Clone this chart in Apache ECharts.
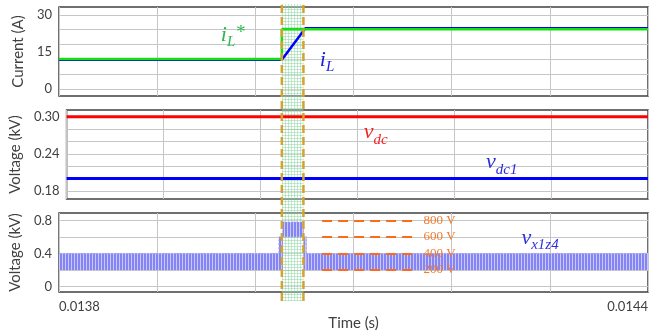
<!DOCTYPE html>
<html>
<head>
<meta charset="utf-8">
<script src="https://cdn.jsdelivr.net/npm/echarts@6/dist/echarts.min.js"></script>
<style>
  html, body { margin: 0; padding: 0; background: #fff; }
  #chart { width: 664px; height: 332px; }
</style>
</head>
<body>
<div id="chart"></div>
<script>
// time axis
const tMin = 0.0138, tMax = 0.0144, tStep = 0.0001;
const tLabels = [0.0138, 0.0144];

// y ticks (grid lines) and labelled values
const curTicks = [0, 6, 12, 18, 24, 30];
const curLabels = [0, 15, 30];
const dcTicks = [0.18, 0.20, 0.22, 0.24, 0.26, 0.28, 0.30];
const dcLabels = [0.18, 0.24, 0.30];
const vxTicks = [0, 0.2, 0.4, 0.6, 0.8];
const vxLabels = [0, 0.4, 0.8];

// transient window
const tOn = 0.014027, tOff = 0.014049;

// panel 1: inductor current and reference
const iRefT = [0.0138, 0.014027, 0.014027, 0.0144];
const iRefV = [12.1, 12.1, 24.2, 24.2];
const iLT = [0.0138, 0.014027, 0.014051, 0.0144];
const iLV = [11.8, 11.8, 24.6, 24.6];

// panel 2: dc voltages
const vdcT = [0.0138, 0.0144];
const vdcV = [0.30, 0.30];
const vdc1V = [0.20, 0.20];

// panel 3: switched voltage band (segment start, end, low, high)
const vxStart = [0.0138, 0.014024, 0.014028, 0.014049, 0.014052];
const vxEnd   = [0.014024, 0.014028, 0.014049, 0.014052, 0.0144];
const vxLow   = [0.2, 0.2, 0.6, 0.2, 0.2];
const vxHigh  = [0.4, 0.6, 0.78, 0.6, 0.4];

// reference levels
const refLevels = [0.8, 0.6, 0.4, 0.2];
const refNames = ['800 V', '600 V', '400 V', '200 V'];
const refT = [0.014068, 0.01416];

const zip = (a, b) => a.map((x, i) => [x, b[i]]);

function makePattern(w, h, draw) {
  const c = document.createElement('canvas');
  c.width = w; c.height = h;
  draw(c.getContext('2d'));
  return c;
}
const bandPat = makePattern(3, 1, ctx => {
  ctx.fillStyle = '#8484f4'; ctx.fillRect(0, 0, 3, 1);
  ctx.fillStyle = '#c8c8fb'; ctx.fillRect(2, 0, 1, 1);
});
const hatchPat = makePattern(3, 3, ctx => {
  ctx.fillStyle = 'rgba(255,255,255,0.25)'; ctx.fillRect(0, 0, 3, 3);
  ctx.fillStyle = 'rgba(110,205,140,0.4)';
  ctx.fillRect(0, 0, 3, 1); ctx.fillRect(0, 0, 1, 3);
});

const font = 'Lato';
const txt = '#404040';
const gridLine = { lineStyle: { color: '#c6c6c6', width: 1 } };
const serif = { fontFamily: 'Liberation Serif', fontStyle: 'italic' };

function richLabel(color, main, sub, sup) {
  return {
    show: true, position: 'inside',
    formatter: '{a|' + main + '}{b|' + sub + '}' + (sup ? '{c|' + sup + '}' : ''),
    rich: {
      a: Object.assign({ fontSize: 22, color: color, lineHeight: 24 }, serif),
      b: Object.assign({ fontSize: 15, color: color, verticalAlign: 'bottom', lineHeight: 30 }, serif),
      c: Object.assign({ fontSize: 19, color: color, verticalAlign: 'top', lineHeight: 30, padding: [4, 0, 0, 0] }, serif)
    }
  };
}
function note(coord, color, main, sub, sup) {
  return {
    silent: true, symbol: 'circle', symbolSize: 0,
    data: [{ coord: coord }],
    label: richLabel(color, main, sub, sup)
  };
}

const L = 59, R = 16;
const border = { show: true, borderColor: '#404040', borderWidth: 1.5 };

function xAxis(i) {
  const ax = {
    type: 'value', gridIndex: i, min: tMin, max: tMax, interval: tStep,
    axisLine: { show: false }, axisTick: { show: false },
    axisLabel: { show: false },
    splitLine: Object.assign({ show: i < 3 }, gridLine)
  };
  if (i === 2) {
    ax.axisLabel = {
      show: true, customValues: tLabels, formatter: v => v.toFixed(4),
      alignMinLabel: 'left', alignMaxLabel: 'right',
      fontFamily: font, fontSize: 13, color: txt, margin: 8
    };
    ax.name = 'Time (s)';
    ax.nameLocation = 'middle';
    ax.nameGap = 24;
    ax.nameTextStyle = { fontFamily: font, fontSize: 15, color: txt };
  }
  return ax;
}
function yAxis(i, min, max, ticks, labels, fmt, name) {
  return {
    type: 'value', gridIndex: i, min: min, max: max,
    axisLine: { show: false },
    axisTick: { show: false, customValues: ticks },
    axisLabel: { customValues: labels, formatter: fmt, fontFamily: font, fontSize: 13, color: txt, margin: 7 },
    splitLine: gridLine,
    name: name, nameLocation: 'middle', nameRotate: 90, nameGap: 27,
    nameTextStyle: { fontFamily: font, fontSize: 15, color: txt }
  };
}

const bandEdge = [];
vxStart.forEach((s, i) => { bandEdge.push([s, vxHigh[i]], [vxEnd[i], vxHigh[i]]); });

const chart = echarts.init(document.getElementById('chart'), null, { renderer: 'canvas' });
chart.setOption({
  animation: false,
  backgroundColor: '#fff',
  grid: [
    Object.assign({ left: L, right: R, top: 7, height: 89 }, border),
    Object.assign({ left: L, right: R, top: 110, height: 89 }, border),
    Object.assign({ left: L, right: R, top: 213, height: 86 }, border),
    { left: L, right: R, top: 4, height: 297, show: false }
  ],
  xAxis: [xAxis(0), xAxis(1), xAxis(2), xAxis(3)],
  yAxis: [
    yAxis(0, -2.84, 33.2, curTicks, curLabels, v => String(v), 'Current (A)'),
    yAxis(1, 0.167, 0.311, dcTicks, dcLabels, v => v.toFixed(2), 'Voltage (kV)'),
    yAxis(2, -0.067, 0.889, vxTicks, vxLabels, v => String(v), 'Voltage (kV)'),
    { type: 'value', gridIndex: 3, min: 0, max: 1, show: false }
  ],
  series: [
    {
      name: 'transient', type: 'line', xAxisIndex: 3, yAxisIndex: 3, z: 1,
      data: [[tOn, 0.5]], showSymbol: false, lineStyle: { width: 0 }, silent: true,
      markArea: {
        silent: true,
        itemStyle: { color: { image: hatchPat, repeat: 'repeat' } },
        data: [[{ xAxis: tOn }, { xAxis: tOff }]]
      }
    },
    {
      name: 'window', type: 'line', xAxisIndex: 3, yAxisIndex: 3, z: 4,
      data: [[tOn, 0], [tOn, 1]], showSymbol: false, silent: true,
      lineStyle: { color: '#d6a12c', type: [8, 4], width: 2.5 }
    },
    {
      name: 'window end', type: 'line', xAxisIndex: 3, yAxisIndex: 3, z: 4,
      data: [[tOff, 0], [tOff, 1]], showSymbol: false, silent: true,
      lineStyle: { color: '#d6a12c', type: [8, 4], width: 2.5 }
    },
    {
      name: 'iL', type: 'line', xAxisIndex: 0, yAxisIndex: 0,
      data: zip(iLT, iLV), showSymbol: false,
      lineStyle: { color: '#0000ff', width: 2.5 },
      markPoint: note([0.014073, 11.8], '#2222dd', 'i', 'L')
    },
    {
      name: 'iL*', type: 'line', xAxisIndex: 0, yAxisIndex: 0,
      data: zip(iRefT, iRefV), showSymbol: false,
      lineStyle: { color: '#14e014', width: 2.5 },
      markPoint: note([0.013977, 21.9], '#2db84d', 'i', 'L', '*')
    },
    {
      name: 'vdc', type: 'line', xAxisIndex: 1, yAxisIndex: 1,
      data: zip(vdcT, vdcV), showSymbol: false,
      lineStyle: { color: '#ff0000', width: 3 },
      markPoint: note([0.014119, 0.275], '#ee2222', 'v', 'dc')
    },
    {
      name: 'vdc1', type: 'line', xAxisIndex: 1, yAxisIndex: 1,
      data: zip(vdcT, vdc1V), showSymbol: false,
      lineStyle: { color: '#0000ff', width: 3 },
      markPoint: note([0.014249, 0.226], '#2a2ad8', 'v', 'dc1')
    },
    {
      name: 'vx1z4 band', type: 'custom', xAxisIndex: 2, yAxisIndex: 2,
      data: vxStart.map((s, i) => [s, vxEnd[i], vxLow[i], vxHigh[i]]),
      encode: { x: [0, 1], y: [2, 3] },
      renderItem: (params, api) => {
        const p0 = api.coord([api.value(0), api.value(3)]);
        const p1 = api.coord([api.value(1), api.value(2)]);
        return {
          type: 'rect',
          shape: { x: p0[0], y: p0[1], width: p1[0] - p0[0], height: p1[1] - p0[1] },
          style: { fill: { image: bandPat, repeat: 'repeat' } }
        };
      }
    },
    {
      name: 'vx1z4', type: 'line', xAxisIndex: 2, yAxisIndex: 2,
      data: bandEdge, showSymbol: false,
      lineStyle: { color: '#a8a8f8', width: 1, type: [2, 2] },
      markPoint: note([0.01429, 0.589], '#3030e0', 'v', 'x1z4'),
      markLine: {
        silent: true, symbol: ['none', 'none'],
        lineStyle: { color: '#ff6a1a', type: [10, 6], width: 2 },
        label: { show: true, position: 'end', distance: 11, color: '#f27a2a', fontFamily: 'Liberation Serif', fontSize: 13 },
        data: refLevels.map((v, i) => [
          { coord: [refT[0], v] },
          { coord: [refT[1], v], label: { formatter: refNames[i] } }
        ])
      }
    }
  ]
});
</script>
</body>
</html>
